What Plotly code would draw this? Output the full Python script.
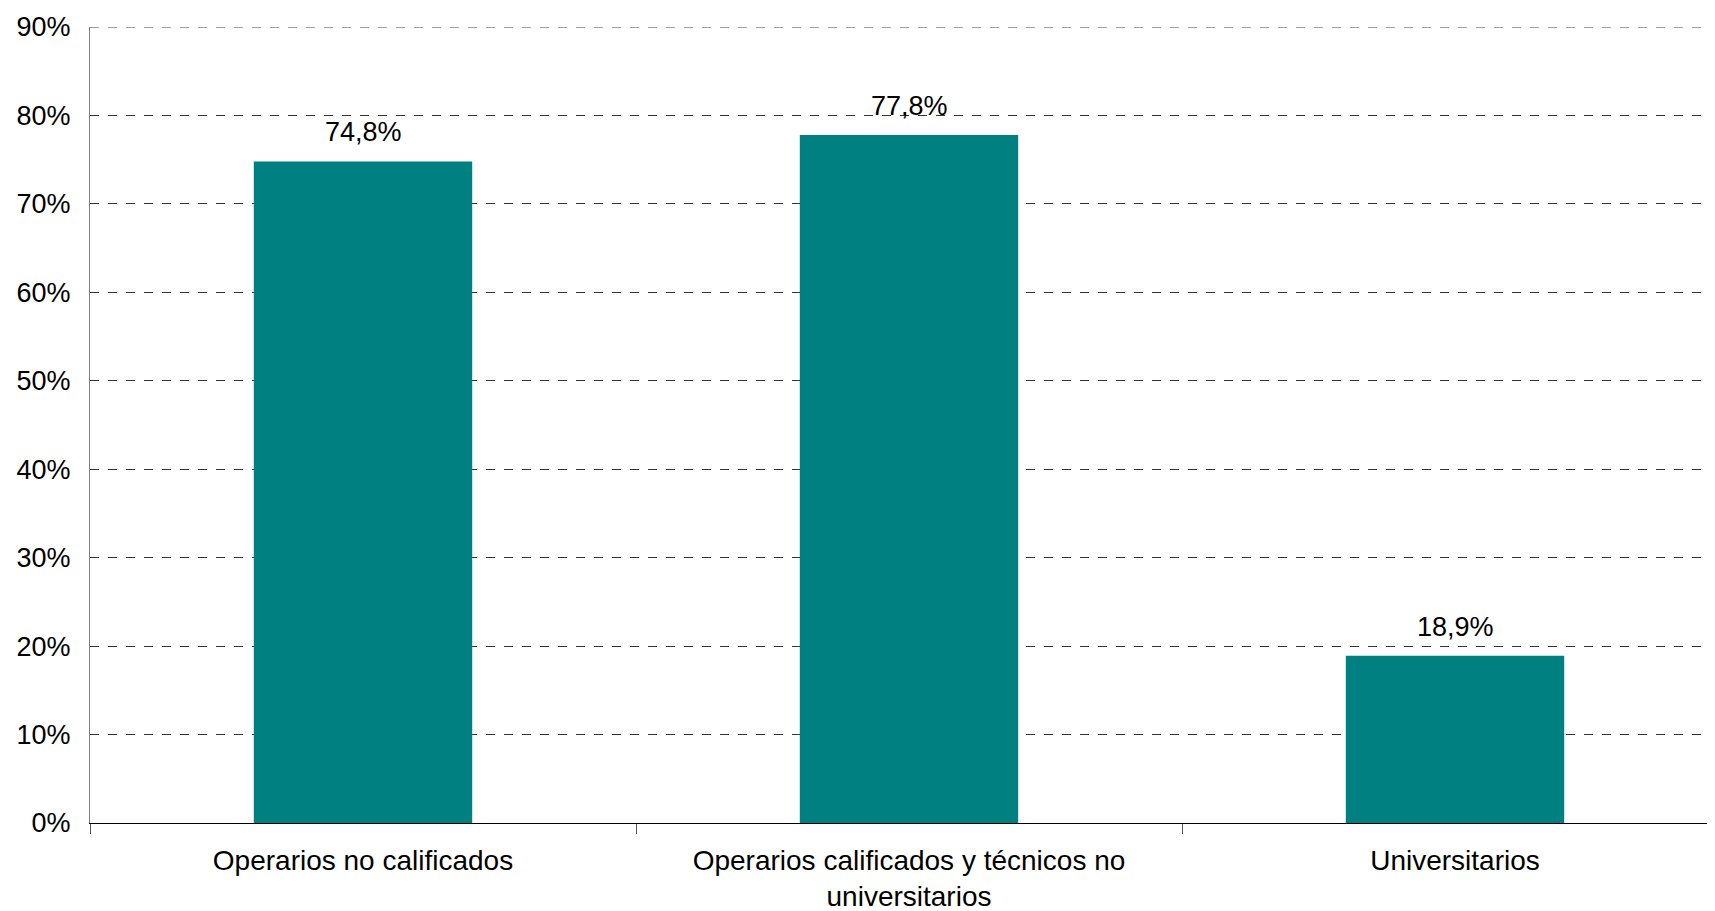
import plotly.graph_objects as go

categories = ["Operarios no calificados",
              "Operarios calificados y técnicos no<br>universitarios",
              "Universitarios"]
values = [74.8, 77.8, 18.9]
labels = ["74,8%", "77,8%", "18,9%"]
y_ticks = [0, 10, 20, 30, 40, 50, 60, 70, 80, 90]

FONT = "Liberation Sans, Arial"

fig = go.Figure(go.Bar(
    x=categories, y=values,
    marker=dict(color="#008080", line=dict(width=0)),
    hoverinfo="x+y",
))

for c, v, t in zip(categories, values, labels):
    fig.add_annotation(x=c, y=v, text=t, showarrow=False,
                       yanchor="bottom", yshift=12,
                       font=dict(family=FONT, size=27, color="#000000"))

fig.add_hline(y=90, line=dict(color="#808080", width=1.5, dash="dash"))

fig.update_layout(
    width=1725, height=903,
    margin=dict(l=82, r=5, t=19, b=88),
    paper_bgcolor="white", plot_bgcolor="white",
    separators=",.",
    bargap=0.6,
    showlegend=False,
    font=dict(family=FONT, size=27, color="#000000"),
)
fig.update_xaxes(
    automargin=False,
    showline=True, linecolor="#000000", linewidth=1,
    ticks="outside", tickson="boundaries", ticklen=10, tickcolor="#555555",
    showgrid=False, ticklabelstandoff=12,
    tickfont=dict(size=28),
)
fig.update_yaxes(
    automargin=False,
    range=[0, 90], tickvals=y_ticks, ticktext=[f"{v}%" for v in y_ticks],
    showline=True, linecolor="#808080", linewidth=1,
    showgrid=True, gridcolor="#333333", griddash="dash", gridwidth=1,
    zeroline=False, ticks="", ticklabelstandoff=13,
    tickfont=dict(size=27),
)

fig.write_html("out.html")
